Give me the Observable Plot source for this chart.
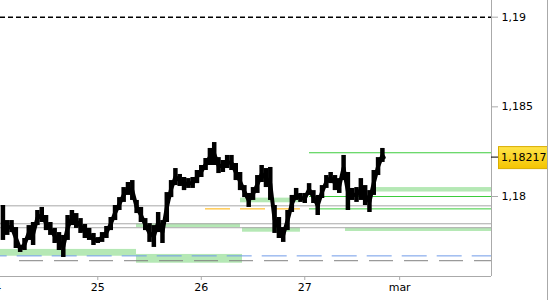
<!DOCTYPE html>
<html><head><meta charset="utf-8">
<script src="https://cdn.jsdelivr.net/npm/d3@7"></script>
<script src="https://cdn.jsdelivr.net/npm/@observablehq/plot@0.6"></script>
<style>body{margin:0;background:#fff} #chart{width:550px;height:300px}</style>
</head><body><div id="chart"></div>
<script>
// time axis: trading hours counted from 24 Feb 00:00
const hours = [2,3,4,5,6,7,8,9,10,11,12,13,14,15,16,17,18,19,20,21,22,23,24,25,26,27,28,29,30,31,32,33,34,35,36,37,38,39,40,41,42,43,44,45,46,47,48,49,50,51,52,53,54,55,56,57,58,59,60,61,62,63,64,65,66,67,68,69,70,71,72,73,74,75,76,77,78,79,80,81,82,83,84,85,86,87,88,89,90];
const hi = [1.17950,1.17866,1.17866,1.17827,1.17727,1.17766,1.17838,1.17855,1.17922,1.17939,1.17894,1.17855,1.17822,1.17799,1.17783,1.17894,1.17922,1.17905,1.17877,1.17844,1.17822,1.17794,1.17771,1.17799,1.17833,1.17883,1.17950,1.17994,1.18050,1.18078,1.18089,1.17978,1.17939,1.17877,1.17849,1.17838,1.17911,1.17866,1.18022,1.18089,1.18156,1.18123,1.18106,1.18100,1.18106,1.18145,1.18173,1.18212,1.18268,1.18301,1.18217,1.18201,1.18229,1.18229,1.18184,1.18134,1.18061,1.18017,1.18050,1.18117,1.18173,1.18156,1.18162,1.17950,1.17883,1.17827,1.17922,1.18006,1.18045,1.18017,1.18017,1.18072,1.18033,1.18006,1.18061,1.18117,1.18134,1.18117,1.18100,1.18229,1.18134,1.18045,1.18050,1.18100,1.18061,1.18033,1.18145,1.18217,1.18268];
const lo = [1.17755,1.17783,1.17799,1.17710,1.17688,1.17699,1.17755,1.17727,1.17838,1.17855,1.17810,1.17783,1.17738,1.17699,1.17660,1.17755,1.17838,1.17822,1.17794,1.17766,1.17755,1.17727,1.17738,1.17744,1.17766,1.17810,1.17866,1.17922,1.17967,1.18006,1.17978,1.17905,1.17855,1.17810,1.17744,1.17716,1.17799,1.17738,1.17855,1.17994,1.18061,1.18056,1.18033,1.18045,1.18045,1.18072,1.18106,1.18145,1.18173,1.18173,1.18128,1.18134,1.18156,1.18145,1.18089,1.18033,1.17994,1.17939,1.17978,1.18017,1.18078,1.18050,1.17978,1.17794,1.17766,1.17744,1.17810,1.17911,1.17978,1.17967,1.17961,1.18006,1.17961,1.17894,1.17989,1.18045,1.18072,1.18033,1.18017,1.18089,1.17922,1.17978,1.17967,1.17978,1.17950,1.17911,1.18006,1.18117,1.18190];
const lastHour = 90.3;
const lastPrice = 1.18217;

const xTickHours = [0, 24, 48, 72, 94];
const xTickLabels = ["24", "25", "26", "27", "mar"];
const yTicks = [1.18, 1.185, 1.19];
const xDomain = [1.44, 115.3];
const yDomain = [1.17554, 1.19093];

const resistanceLevel = 1.19;
const grayLevels = [1.17948, 1.17848, 1.17826];
const greenLevels = [1.18244, 1.18, 1.17931];
const greenFrom = 73.1;
const orangeLevel = 1.17931, orangeFrom = 48.98, orangeTo = 71.0;
const blueDashLevel = 1.17669;
const grayDashLevel = 1.17642, grayDashFrom = 5.85;

const zoneFrom   = [1.44,    32.98,   32.98,   57.09,   57.56,   81.44,   88.4];
const zoneTo     = [32.98,   57.56,   57.09,   71.0,    71.0,    115.3,   115.3];
const zoneTop    = [1.17705, 1.17677, 1.17848, 1.17991, 1.17826, 1.17824, 1.18050];
const zoneBottom = [1.17667, 1.17628, 1.17826, 1.17965, 1.17801, 1.17805, 1.18025];

const bars = hours.map((h, i) => ({h, hi: hi[i], lo: lo[i], mid: (hi[i] + lo[i]) / 2}));
const path = bars.map(d => ({h: d.h, v: d.mid})).concat([{h: lastHour, v: lastPrice}]);
const zones = zoneFrom.map((f, i) => ({x1: f, x2: zoneTo[i], y1: zoneBottom[i], y2: zoneTop[i]}));
const fmt = d => String(d).replace(".", ",");

const chart = Plot.plot({
  width: 550, height: 300,
  marginLeft: 0, marginRight: 59, marginTop: 0, marginBottom: 24,
  style: {fontFamily: "DejaVu Sans", fontSize: "11px", background: "#fff"},
  x: {type: "linear", domain: xDomain},
  y: {type: "linear", domain: yDomain},
  marks: [
    Plot.rect(zones, {x1: "x1", x2: "x2", y1: "y1", y2: "y2", fill: "#b5e8b5"}),
    Plot.ruleY(grayLevels, {stroke: "#a8a8a8", strokeWidth: 1}),
    Plot.ruleY([blueDashLevel], {x1: () => xDomain[0], x2: () => xDomain[1], stroke: "#6f9be8", strokeDasharray: "25,10", strokeDashoffset: 18.3}),
    Plot.ruleY([grayDashLevel], {x1: () => grayDashFrom, x2: () => xDomain[1], stroke: "#808080", strokeDasharray: "24,11"}),
    Plot.ruleY(greenLevels, {x1: () => greenFrom, x2: () => xDomain[1], stroke: "#3ccc3c"}),
    Plot.ruleY([orangeLevel], {x1: () => orangeFrom, x2: () => orangeTo, stroke: "#ffb000", strokeDasharray: "25,10"}),
    Plot.ruleY([resistanceLevel], {stroke: "#000", strokeDasharray: "5,3", strokeWidth: 1.5}),
    Plot.ruleX(bars, {x: "h", y1: "lo", y2: "hi", stroke: "#000", strokeWidth: 4.5}),
    Plot.line(path, {x: "h", y: "v", stroke: "#000", strokeWidth: 4}),
    Plot.ruleY([yDomain[0]], {stroke: "#aaa"}),
    Plot.ruleX([xDomain[1]], {stroke: "#aaa"}),
    Plot.axisX(xTickHours, {tickSize: 4, tickPadding: 3, stroke: "#aaa", fill: "#000",
      tickFormat: d => xTickLabels[xTickHours.indexOf(d)]}),
    Plot.axisY(yTicks, {anchor: "right", tickSize: 6, tickPadding: 4, stroke: "#aaa", fill: "#000", tickFormat: fmt})
  ]
});
document.getElementById("chart").appendChild(chart);

// last-price marker in the right margin, positioned with the plot's own y scale
const yS = chart.scale("y");
const yy = yS.apply(lastPrice);
const svg = d3.select(chart);
const defs = svg.append("defs");
const g = defs.append("linearGradient").attr("id", "goldg").attr("x1", 0).attr("y1", 0).attr("x2", 0).attr("y2", 1);
g.append("stop").attr("offset", "0%").attr("stop-color", "#ffe44a");
g.append("stop").attr("offset", "100%").attr("stop-color", "#f4c400");
svg.append("line").attr("x1", 491).attr("x2", 498).attr("y1", yy).attr("y2", yy).attr("stroke", "#000");
svg.append("rect").attr("x", 498.5).attr("y", yy - 10.5).attr("width", 49).attr("height", 22)
  .attr("fill", "url(#goldg)").attr("stroke", "#d9ad00");
svg.append("text").attr("x", 501).attr("y", yy).attr("dy", "0.36em").attr("fill", "#000")
  .attr("text-anchor", "start")
  .attr("font-family", "DejaVu Sans").attr("font-size", "11px").text(fmt(lastPrice));
svg.append("line").attr("x1", 547.5).attr("x2", 547.5).attr("y1", 0).attr("y2", 300).attr("stroke", "#aaa");
</script>
</body></html>
